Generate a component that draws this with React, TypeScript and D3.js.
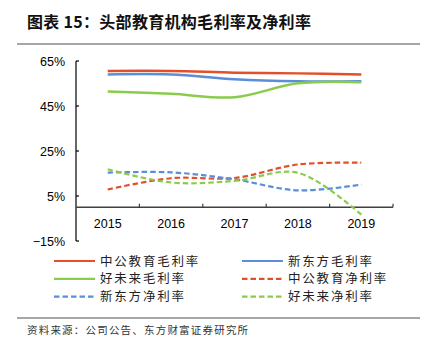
import React from "react";
import * as d3 from "d3";

const years = ["2015", "2016", "2017", "2018", "2019"];
const yTicks = [-15, 5, 25, 45, 65];
const zgGross = [60.6, 60.6, 59.8, 59.5, 59.0];
const xdfGross = [59.0, 59.0, 56.9, 56.0, 56.0];
const talGross = [51.4, 50.4, 48.9, 55.1, 55.6];
const zgNet = [7.9, 12.9, 13.0, 19.0, 19.8];
const xdfNet = [15.4, 15.5, 12.4, 7.5, 10.1];
const talNet = [16.9, 11.0, 11.7, 15.3, -3.3];

const RED = "#E2502A";
const BLUE = "#5A8ED8";
const GREEN = "#8BCB4C";

const series = [
  { name: "中公教育毛利率", values: zgGross, color: RED, dashed: false },
  { name: "新东方毛利率", values: xdfGross, color: BLUE, dashed: false },
  { name: "好未来毛利率", values: talGross, color: GREEN, dashed: false },
  { name: "中公教育净利率", values: zgNet, color: RED, dashed: true },
  { name: "新东方净利率", values: xdfNet, color: BLUE, dashed: true },
  { name: "好未来净利率", values: talNet, color: GREEN, dashed: true },
];

export default function App() {
  const W = 433, H = 350;
  const x = d3.scaleBand<string>().domain(years).range([76, 393]);
  const y = d3.scaleLinear().domain([-15, 65]).range([241, 61]);
  const cx = (d: string) => (x(d) as number) + x.bandwidth() / 2;
  const line = d3
    .line<number>()
    .x((_, i) => cx(years[i]))
    .y((v) => y(v))
    .curve(d3.curveCatmullRom.alpha(0.5));
  const font = "'Liberation Sans', Arial, sans-serif";
  const cjk = "'Noto Sans CJK SC', sans-serif";
  return (
    <svg width={W} height={H} style={{ position: "absolute", left: 0, top: 0 }}>
      <rect width={W} height={H} fill="#fff" />
      <text x={27} y={28} fontFamily={cjk} fontWeight="bold" fontSize={16} letterSpacing={0.3} fill="#111">
        图表 15：头部教育机构毛利率及净利率
      </text>
      <line x1={17} x2={420} y1={44} y2={44} stroke="#888" strokeWidth={1.5} />
      {/* y axis */}
      <line x1={76} x2={76} y1={y(65)} y2={y(-15)} stroke="#000" strokeWidth={1.2} />
      {yTicks.map((t) => (
        <g key={t}>
          <line x1={76} x2={79} y1={y(t)} y2={y(t)} stroke="#000" strokeWidth={1.2} />
          <text x={65} y={y(t) + 4.5} textAnchor="end" fontFamily={font} fontSize={12.5} fill="#000">
            {t < 0 ? "\u2212" + Math.abs(t) : t}%
          </text>
        </g>
      ))}
      {/* x axis */}
      <line x1={76} x2={393} y1={y(0)} y2={y(0)} stroke="#404040" strokeWidth={1.5} />
      {years.map((yr) => (
        <g key={yr}>
          <line
            x1={(x(yr) as number) + x.bandwidth()}
            x2={(x(yr) as number) + x.bandwidth()}
            y1={y(0)}
            y2={y(0) - 3.5}
            stroke="#404040"
            strokeWidth={1.2}
          />
          <text x={cx(yr)} y={y(0) + 21} textAnchor="middle" fontFamily={font} fontSize={12.5} fill="#000">
            {yr}
          </text>
        </g>
      ))}
      {series.map((s) => (
        <path
          key={s.name}
          d={line(s.values) as string}
          fill="none"
          stroke={s.color}
          strokeWidth={s.dashed ? 2.2 : 2.5}
          strokeDasharray={s.dashed ? "5.5,3" : undefined}
        />
      ))}
      {/* legend */}
      {series.map((s, i) => {
        const col = i % 2;
        const row = Math.floor(i / 2);
        const lx = col === 0 ? 54 : 242;
        const ly = 261 + row * 17.8;
        return (
          <g key={s.name}>
            <line
              x1={lx}
              x2={lx + 41}
              y1={ly}
              y2={ly}
              stroke={s.color}
              strokeWidth={2.2}
              strokeDasharray={s.dashed ? "5.5,3" : undefined}
            />
            <text x={lx + 46} y={ly + 4.5} fontFamily={cjk} fontSize={12.5} letterSpacing={1.8} fill="#222">
              {s.name}
            </text>
          </g>
        );
      })}
      <line x1={17} x2={420} y1={318} y2={318} stroke="#888" strokeWidth={1.5} />
      <text x={27} y={334} fontFamily={cjk} fontSize={10.5} letterSpacing={1.2} fill="#333">
        资料来源：公司公告、东方财富证券研究所
      </text>
    </svg>
  );
}
